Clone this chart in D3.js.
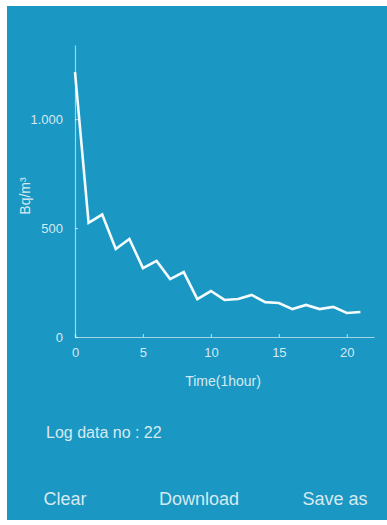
<!DOCTYPE html>
<html>
<head>
<meta charset="utf-8">
<script src="https://cdn.jsdelivr.net/npm/d3@7"></script>
<style>
 body { margin: 0; background: #fff; }
 svg { display: block; }
 text { font-family: "Liberation Sans", Arial, sans-serif; }
</style>
</head>
<body>
<script>
const width = 387;
const height = 525;

// readings, one per hour
var hours = [0, 1, 2, 3, 4, 5, 6, 7, 8, 9, 10, 11, 12, 13, 14, 15, 16, 17, 18, 19, 20, 21];
var values = [1216, 524, 562, 404, 450, 316, 349, 266, 298, 174, 211, 170, 174, 193, 160, 156, 128, 147, 128, 138, 110, 115];
var xTicks = [0, 5, 10, 15, 20];
var yTicks = [0, 500, 1000];
var yTickLabels = ["0", "500", "1.000"];
var buttons = ["Clear", "Download", "Save as"];

var svg = d3.select("body")
 .append("svg")
 .attr("width", width)
 .attr("height", height);

// blue panel
svg.append("rect")
 .attr("x", 7)
 .attr("y", 6)
 .attr("width", width - 7)
 .attr("height", 514)
 .attr("fill", "#1a97c3");

var xscale = d3.scaleLinear()
 .domain([0, 22])
 .range([75, 374]);

var yscale = d3.scaleLinear()
 .domain([0, 1340])
 .range([337, 45]);

var axisColor = "rgba(255,255,255,0.6)";
var labelColor = "#d6eaf1";

// x axis, ticks pointing inward
var x_axis = d3.axisBottom(xscale)
 .tickValues(xTicks)
 .tickSize(-3)
 .tickPadding(11)
 .tickSizeOuter(0);

var gx = svg.append("g")
 .attr("transform", "translate(0," + yscale(0) + ")")
 .call(x_axis);

// y axis
var y_axis = d3.axisLeft(yscale)
 .tickValues(yTicks)
 .tickFormat((d, i) => yTickLabels[i])
 .tickSize(-3)
 .tickPadding(12)
 .tickSizeOuter(0);

var gy = svg.append("g")
 .attr("transform", "translate(" + xscale(0) + ",0)")
 .call(y_axis);

[gx, gy].forEach(g => {
 g.select(".domain").attr("stroke", axisColor).attr("stroke-width", 1.2);
 g.selectAll(".tick line").attr("stroke", axisColor).attr("stroke-width", 1.2);
 g.selectAll(".tick text")
  .attr("fill", labelColor)
  .style("font-size", "13px");
});

// the data line
var line = d3.line()
 .x((d, i) => xscale(hours[i]))
 .y(d => yscale(d));

svg.append("path")
 .datum(values)
 .attr("fill", "none")
 .attr("stroke", "#f4fbfd")
 .attr("stroke-width", 2.6)
 .attr("stroke-linejoin", "miter")
 .attr("d", line);

// axis titles
svg.append("text")
 .attr("transform", "translate(30,196) rotate(-90)")
 .attr("text-anchor", "middle")
 .attr("fill", labelColor)
 .style("font-size", "14px")
 .text("Bq/m³");

svg.append("text")
 .attr("x", 223)
 .attr("y", 386)
 .attr("text-anchor", "middle")
 .attr("fill", labelColor)
 .style("font-size", "14px")
 .text("Time(1hour)");

svg.append("text")
 .attr("x", 46)
 .attr("y", 438)
 .attr("fill", labelColor)
 .style("font-size", "16px")
 .text("Log data no : " + values.length);

// buttons along the bottom
var buttonX = [65, 199, 335];
svg.selectAll(".btn")
 .data(buttons)
 .enter()
 .append("text")
 .attr("class", "btn")
 .attr("x", (d, i) => buttonX[i])
 .attr("y", 505)
 .attr("text-anchor", "middle")
 .attr("fill", labelColor)
 .style("font-size", "18px")
 .text(d => d);
</script>
</body>
</html>
